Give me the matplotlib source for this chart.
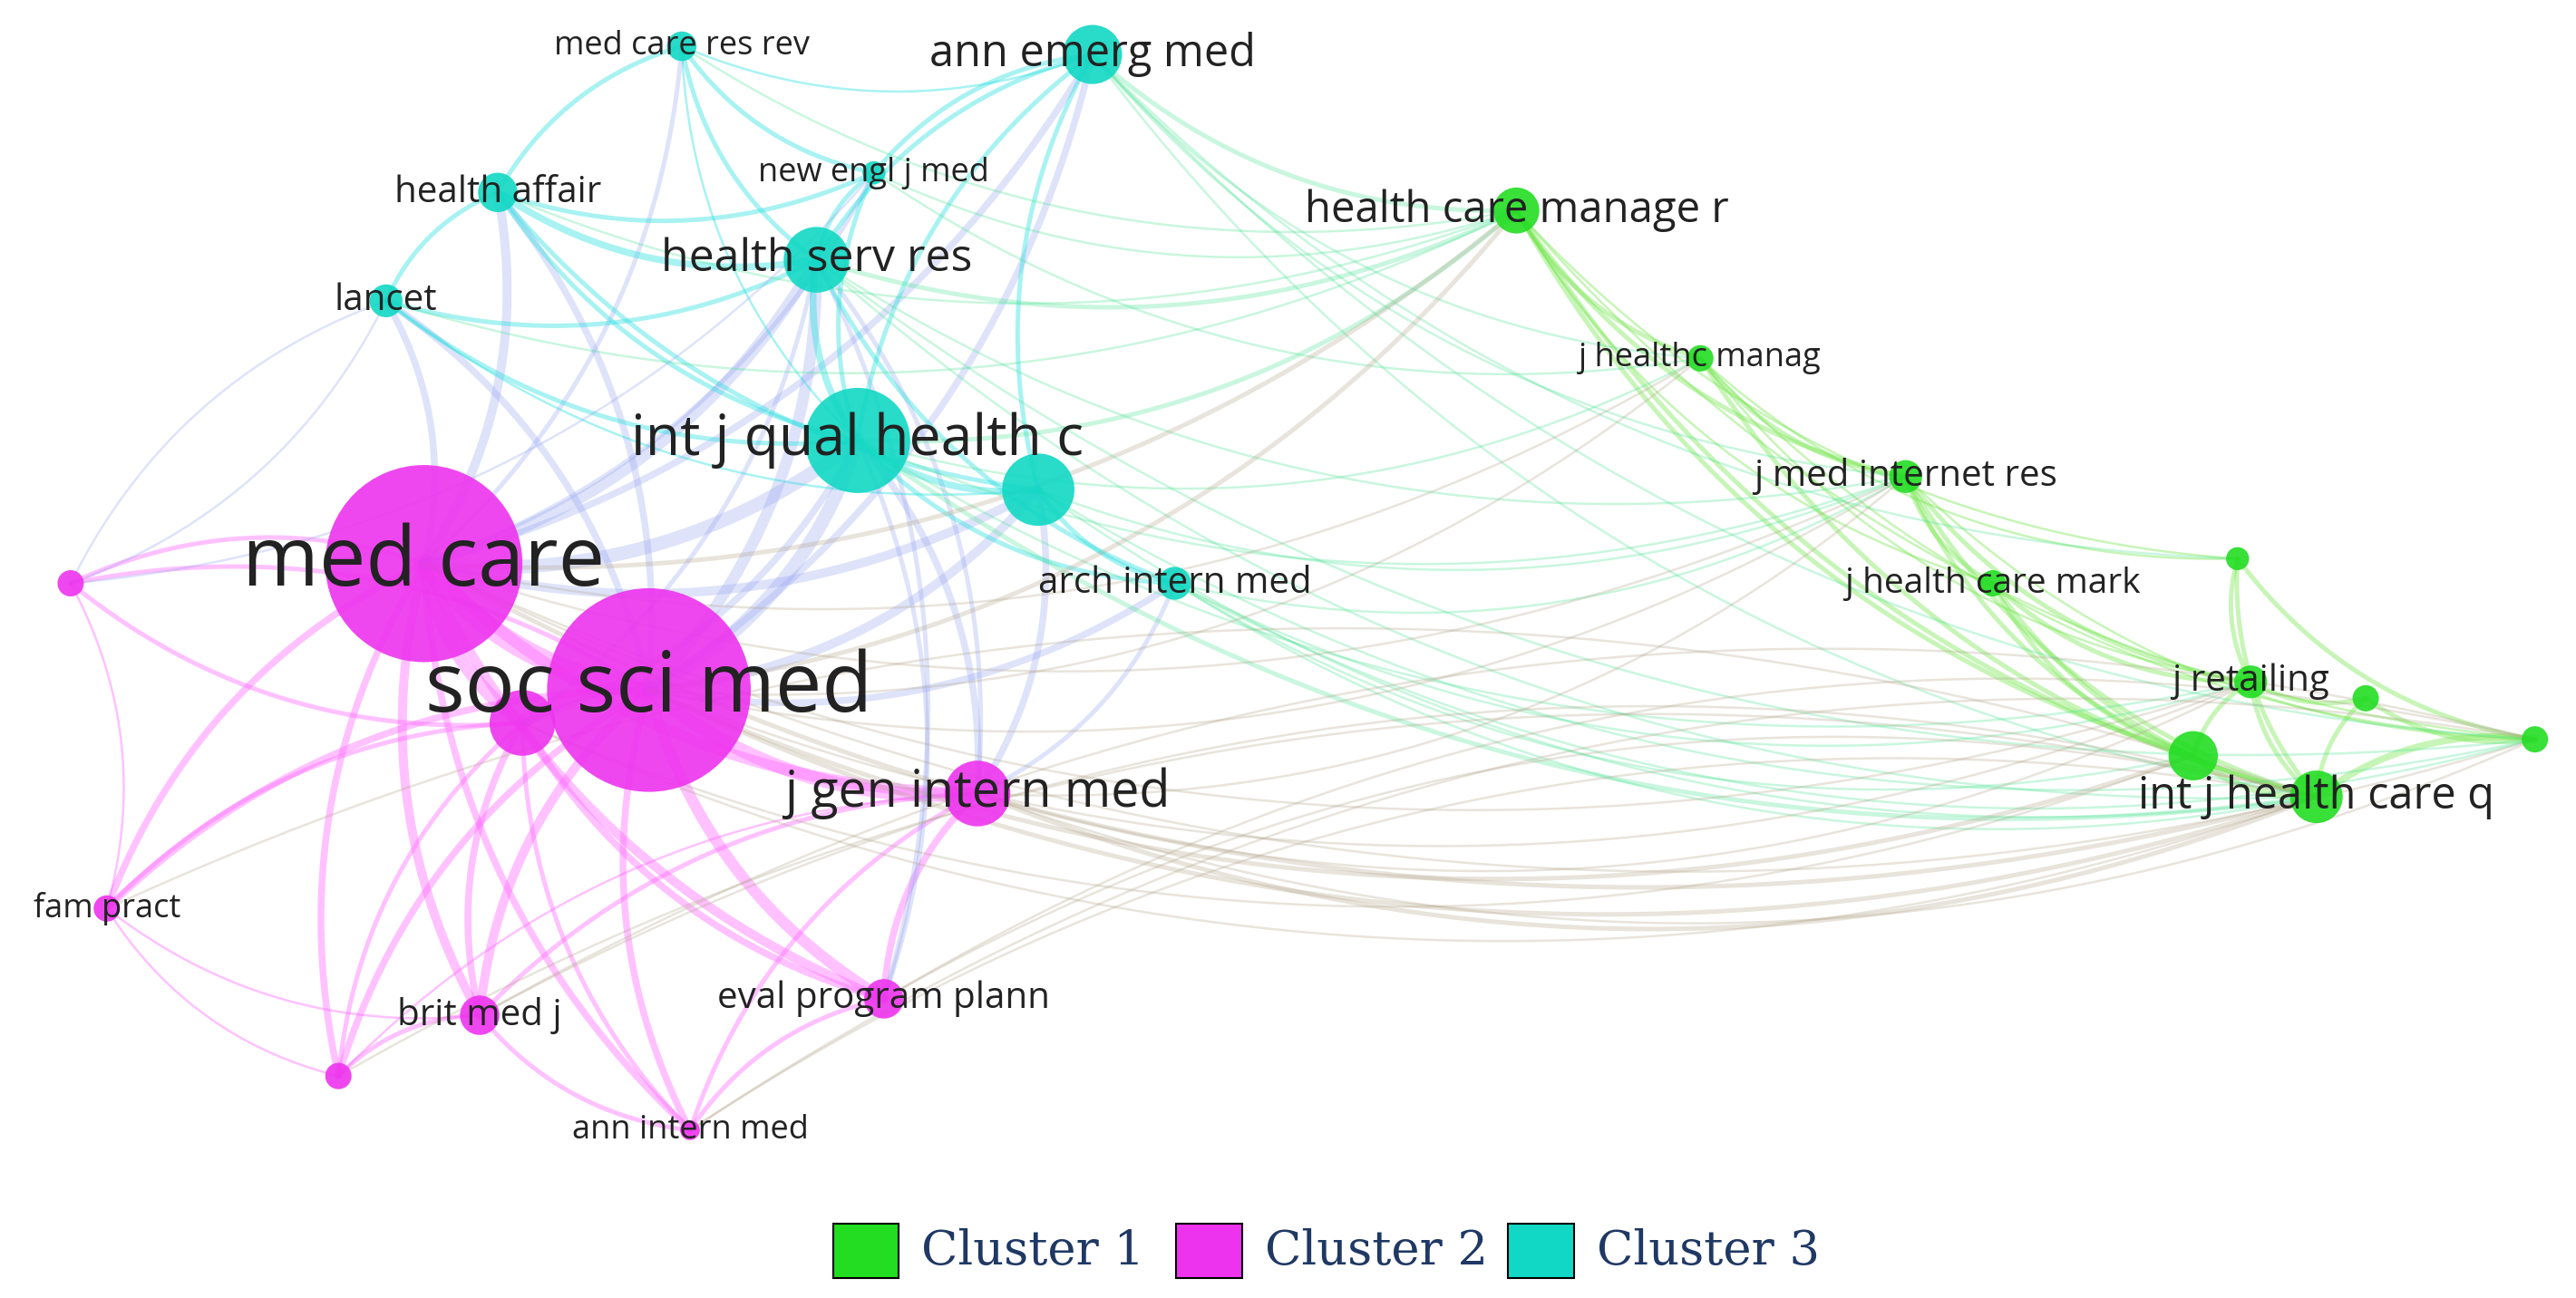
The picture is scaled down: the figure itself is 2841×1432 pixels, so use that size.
import numpy as np
import matplotlib.pyplot as plt
from matplotlib.patches import Circle, Rectangle

# nodes: label, x, y, radius, cluster, label font size
labels = ["med care", "soc sci med", "", "j gen intern med", "fam pract", "brit med j",
          "eval program plann", "ann intern med", "", "",
          "med care res rev", "ann emerg med", "health affair", "new engl j med",
          "health serv res", "lancet", "int j qual health c", "", "arch intern med",
          "health care manage r", "j healthc manag", "j med internet res",
          "j health care mark", "", "j retailing", "", "", "", "int j health care q"]
xs = [258, 395, 318, 595, 65, 292, 538, 420, 43, 206,
      415, 665, 303, 532, 497, 235, 522, 632, 715,
      923, 1035, 1160, 1213, 1362, 1370, 1440, 1543, 1335, 1410]
ys = [343, 420, 440, 483, 553, 618, 608, 688, 355, 655,
      28, 33, 117, 105, 158, 183, 268, 298, 355,
      128, 218, 290, 355, 340, 415, 425, 450, 460, 485]
radii = [60, 62, 20, 20, 8, 12, 12, 6, 8, 8,
         9, 18, 12, 7, 20, 10, 32, 22, 10,
         14, 8, 10, 8, 7, 10, 8, 8, 15, 16]
cluster = [2] * 10 + [3] * 9 + [1] * 10
fsizes = [66, 66, 0, 40, 26, 29, 29, 26, 0, 0,
          26, 35, 29, 26, 36, 29, 45, 0, 29,
          34, 26, 29, 28, 0, 29, 0, 0, 0, 35]

# edges: (node a, node b, weight)
edges = [(0, 1, 9), (0, 2, 6), (1, 2, 6), (0, 3, 5), (1, 3, 6), (0, 4, 3), (1, 4, 3),
         (0, 5, 4), (1, 5, 4), (0, 6, 4), (1, 6, 5), (0, 7, 3), (1, 7, 3), (0, 8, 2),
         (1, 8, 2), (0, 9, 3), (1, 9, 3), (2, 5, 3), (3, 6, 3), (2, 6, 3), (4, 9, 1),
         (5, 9, 2), (3, 7, 2), (2, 9, 2), (4, 8, 1), (5, 7, 2), (2, 4, 2), (3, 5, 2),
         (2, 7, 2), (6, 7, 2), (4, 5, 1), (8, 2, 2), (3, 9, 1),
         (0, 16, 6), (1, 16, 6), (0, 14, 5), (1, 14, 5), (0, 12, 4), (1, 12, 3),
         (0, 15, 3), (1, 15, 3), (0, 17, 4), (1, 17, 4), (0, 11, 3), (1, 11, 3),
         (0, 10, 2), (0, 13, 2), (1, 18, 3), (3, 16, 3), (3, 17, 3), (3, 18, 2),
         (2, 16, 3), (2, 14, 2), (6, 16, 2), (6, 14, 2), (3, 14, 2), (8, 15, 1),
         (10, 12, 2), (10, 14, 2), (11, 14, 2), (12, 15, 2), (12, 14, 3), (14, 16, 3),
         (15, 16, 2), (16, 17, 3), (13, 14, 2), (11, 13, 2), (16, 18, 2), (17, 18, 2),
         (14, 18, 2), (11, 17, 2), (10, 11, 1), (12, 16, 2), (10, 13, 2), (12, 13, 2),
         (15, 14, 2), (13, 16, 2), (11, 16, 2), (15, 17, 1), (12, 17, 2), (10, 16, 1),
         (19, 20, 2), (19, 21, 2), (20, 21, 2), (21, 22, 2), (22, 24, 2), (23, 24, 2),
         (24, 25, 2), (25, 26, 2), (27, 28, 3), (24, 27, 2), (24, 28, 2), (26, 28, 3),
         (23, 28, 2), (19, 28, 2), (20, 28, 2), (21, 28, 2), (19, 27, 2), (22, 28, 2),
         (19, 26, 1), (20, 26, 1), (21, 26, 1), (19, 23, 1), (20, 24, 1), (21, 24, 2),
         (22, 27, 2), (23, 26, 2), (25, 28, 2), (19, 22, 1), (20, 23, 1), (21, 27, 2),
         (11, 19, 2), (11, 20, 1), (14, 19, 2), (16, 19, 2), (16, 21, 1), (18, 21, 1),
         (18, 28, 1), (16, 28, 2), (14, 28, 1), (11, 26, 1), (18, 26, 1), (17, 28, 1),
         (11, 21, 1), (11, 23, 1), (13, 19, 1), (13, 20, 1), (14, 21, 1), (16, 20, 1),
         (17, 21, 1), (18, 24, 1), (12, 19, 1), (15, 19, 1), (10, 19, 1), (18, 27, 1),
         (16, 24, 1), (14, 26, 1), (11, 28, 1), (17, 26, 1),
         (0, 28, 2), (1, 28, 2), (1, 21, 1), (0, 19, 2), (1, 19, 2), (3, 28, 2),
         (1, 27, 2), (6, 28, 1), (5, 28, 1), (7, 26, 1), (9, 28, 1), (3, 26, 1),
         (0, 21, 1), (1, 24, 1), (2, 28, 1), (0, 26, 1), (8, 13, 1), (15, 8, 1),
         (0, 20, 1), (1, 20, 1), (3, 21, 1), (3, 24, 1), (6, 26, 1), (5, 26, 1),
         (4, 28, 1), (7, 28, 1), (2, 27, 1), (0, 24, 1)]

node_colors = {1: "#22dd22", 2: "#ee33ee", 3: "#11d8c4"}
edge_colors = {1: np.array([0.45, 0.9, 0.3]), 2: np.array([1.0, 0.4, 1.0]),
               3: np.array([0.15, 0.88, 0.88])}

fig = plt.figure(figsize=(28.41, 14.32), dpi=100)
ax = fig.add_axes([0, 0, 1, 1])
ax.set_xlim(0, 1568)
ax.set_ylim(790, 0)
ax.set_aspect("equal")
ax.axis("off")

t = np.linspace(0, 1, 60)
for a, b, w in edges:
    p0 = np.array([xs[a], ys[a]], float)
    p2 = np.array([xs[b], ys[b]], float)
    d = p2 - p0
    n = np.array([-d[1], d[0]])
    ctrl = (p0 + p2) / 2 + 0.2 * n
    if ctrl[1] > 720 or ctrl[1] < 0:
        ctrl = (p0 + p2) / 2 - 0.2 * n
    curve = ((1 - t) ** 2)[:, None] * p0 + (2 * t * (1 - t))[:, None] * ctrl + (t ** 2)[:, None] * p2
    ca, cb = edge_colors[cluster[a]], edge_colors[cluster[b]]
    if cluster[a] == cluster[b]:
        col = ca
        alpha = 0.4
    else:
        col = (ca + cb) / 2
        if {cluster[a], cluster[b]} == {1, 2}:
            col = np.array([0.7, 0.65, 0.55])
        alpha = 0.3
    ax.plot(curve[:, 0], curve[:, 1], color=col, lw=w * 1.8, alpha=alpha,
            solid_capstyle="round", zorder=1)

for i in range(len(xs)):
    ax.add_patch(Circle((xs[i], ys[i]), radii[i], color=node_colors[cluster[i]],
                        alpha=0.9, zorder=2, lw=0))

for i in range(len(xs)):
    if labels[i]:
        ax.text(xs[i], ys[i], labels[i], fontsize=fsizes[i], family="Open Sans",
                color="#222222", ha="center", va="center", zorder=3)

# legend
legend_names = ["Cluster 1", "Cluster 2", "Cluster 3"]
legend_x = [507, 716, 918]
for name, lx, c in zip(legend_names, legend_x, [1, 2, 3]):
    ax.add_patch(Rectangle((lx, 745), 40, 33, facecolor=node_colors[c],
                           edgecolor="black", lw=1.5, zorder=3))
    ax.text(lx + 54, 762, name, fontsize=38, family="DejaVu Serif",
            color="#1f3864", va="center", ha="left")

fig.savefig("out.png", dpi=100)
